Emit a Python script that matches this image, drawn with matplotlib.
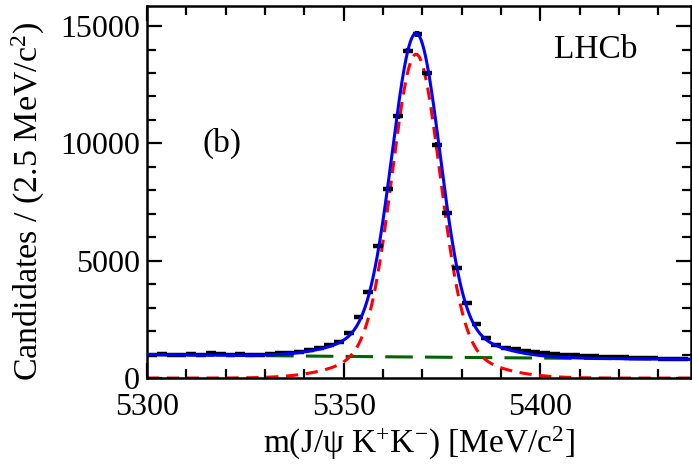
import numpy as np
import matplotlib
matplotlib.use('Agg')
import matplotlib.pyplot as plt
from matplotlib.ticker import MultipleLocator

plt.rcParams['font.family'] = ['Liberation Serif', 'DejaVu Serif']
plt.rcParams['mathtext.fontset'] = 'custom'
plt.rcParams['mathtext.rm'] = 'Liberation Serif'
plt.rcParams['mathtext.it'] = 'Liberation Serif:italic'

# bin centres (2.5 MeV bins) and candidates per bin
mass = [5301.25, 5303.75, 5306.25, 5308.75, 5311.25, 5313.75, 5316.25, 5318.75,
        5321.25, 5323.75, 5326.25, 5328.75, 5331.25, 5333.75, 5336.25, 5338.75,
        5341.25, 5343.75, 5346.25, 5348.75, 5351.25, 5353.75, 5356.25, 5358.75,
        5361.25, 5363.75, 5366.25, 5368.75, 5371.25, 5373.75, 5376.25, 5378.75,
        5381.25, 5383.75, 5386.25, 5388.75, 5391.25, 5393.75, 5396.25, 5398.75,
        5401.25, 5403.75, 5406.25, 5408.75, 5411.25, 5413.75, 5416.25, 5418.75,
        5421.25, 5423.75, 5426.25, 5428.75, 5431.25, 5433.75, 5436.25]
counts = [1000, 1010, 990, 1000, 1020, 980, 1050, 1010,
          990, 1030, 980, 1000, 1020, 1050, 1080, 1120,
          1180, 1270, 1400, 1520, 1910, 2610, 3650, 5630,
          8060, 11150, 13950, 14660, 12990, 9940, 7050, 4700,
          3180, 2290, 1700, 1420, 1300, 1220, 1160, 1100,
          1050, 1020, 990, 970, 930, 920, 900, 880,
          890, 870, 850, 840, 820, 830, 800]

# fit components: double gaussian signal + exponential background
sig_mean = 5368.4
sig_h1, sig_w1 = 12420, 6.0
sig_h2, sig_w2 = 1380, 14.0
bkg_norm, bkg_slope = 1000, 0.0016

x = np.linspace(5300, 5440, 800)
signal = (sig_h1 * np.exp(-0.5 * ((x - sig_mean) / sig_w1) ** 2)
          + sig_h2 * np.exp(-0.5 * ((x - sig_mean) / sig_w2) ** 2))
bkg = bkg_norm * np.exp(-bkg_slope * (x - 5300))
total = signal + bkg

fig = plt.figure(figsize=(6.92, 4.72), dpi=100)
ax = fig.add_axes([0.2124, 0.199, 0.7862, 0.788])

ax.plot(x, bkg, color='#006400', lw=2.2, dashes=(9, 4))
ax.plot(x, signal, color='red', lw=2.2, dashes=(4, 2.5))
ax.errorbar(mass, counts, xerr=1.25, yerr=np.sqrt(counts), fmt='none',
            ecolor='black', elinewidth=3.2, capsize=0, zorder=3)
ax.plot(x, total, color='blue', lw=2.2, zorder=4)

ax.set_xlim(5300, 5438.3)
ax.set_ylim(0, 15850)
ax.xaxis.set_major_locator(MultipleLocator(50))
ax.xaxis.set_minor_locator(MultipleLocator(10))
ax.yaxis.set_major_locator(MultipleLocator(5000))
ax.yaxis.set_minor_locator(MultipleLocator(1000))
ax.tick_params(which='both', direction='in', top=True, right=True,
               labelsize=23, width=1.6)
ax.tick_params(which='major', length=11)
ax.tick_params(axis='x', which='major', pad=11)
ax.tick_params(axis='y', which='major', pad=5)
ax.tick_params(which='minor', length=6.5)
for s in ax.spines.values():
    s.set_linewidth(1.8)

ax.set_xlabel(r'm(J/$\mathregular{\psi}$ K$^{+}$K$^{-}$) [MeV/c$^{2}$]',
              fontsize=24, labelpad=2)
ax.set_ylabel(r'Candidates / (2.5 MeV/c$^{2}$)', fontsize=24.5)
ax.yaxis.set_label_coords(-0.183, 0.475)

ax.text(5414, 14000, 'LHCb', fontsize=24, ha='center', va='center')
ax.text(5319, 10000, '(b)', fontsize=24, ha='center', va='center')

fig.savefig('out.png', dpi=100)
